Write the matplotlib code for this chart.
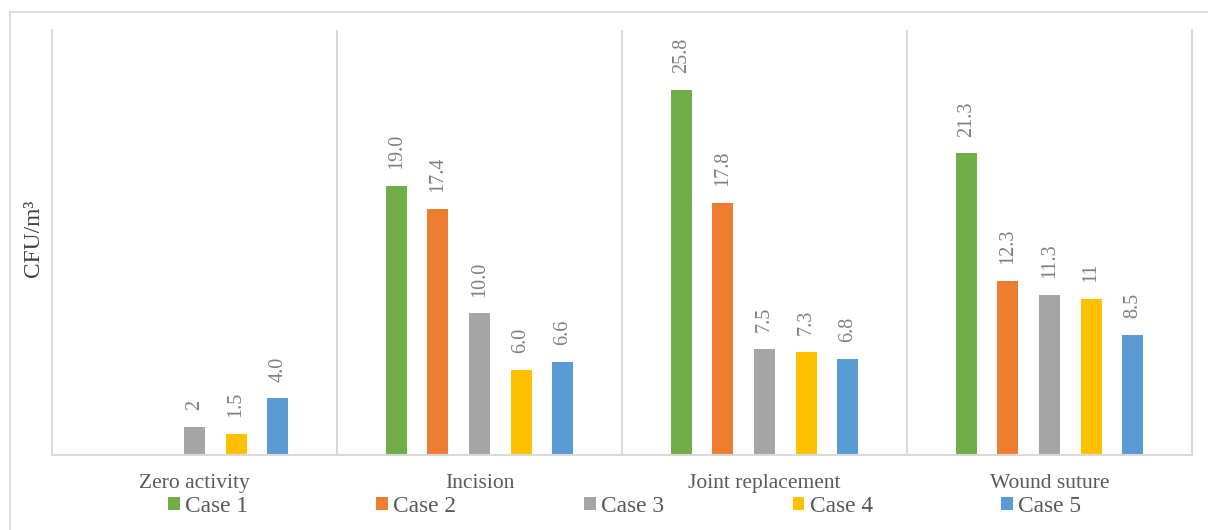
import matplotlib
matplotlib.use("Agg")
import matplotlib.pyplot as plt
from matplotlib.patches import Rectangle

plt.rcParams["font.family"] = ["Liberation Serif", "DejaVu Serif"]

categories = ["Zero activity", "Incision", "Joint replacement", "Wound suture"]
series_names = ["Case 1", "Case 2", "Case 3", "Case 4", "Case 5"]

# None = no bar in that group
case1 = [None, 19.0, 25.8, 21.3]
case2 = [None, 17.4, 17.8, 12.3]
case3 = [2.0, 10.0, 7.5, 11.3]
case4 = [1.5, 6.0, 7.3, 11.0]
case5 = [4.0, 6.6, 6.8, 8.5]

case1_labels = ["", "19.0", "25.8", "21.3"]
case2_labels = ["", "17.4", "17.8", "12.3"]
case3_labels = ["2", "10.0", "7.5", "11.3"]
case4_labels = ["1.5", "6.0", "7.3", "11"]
case5_labels = ["4.0", "6.6", "6.8", "8.5"]

colors = ["#70AD47", "#ED7D31", "#A5A5A5", "#FFC000", "#5B9BD5"]
grid_col = "#D9D9D9"

W, H = 1208, 530
fig = plt.figure(figsize=(W / 100, H / 100), dpi=100)

# outer chart border
fig.patches.append(Rectangle((10 / W, -0.02), 1.05, 1 - 12 / H + 0.02,
                             transform=fig.transFigure, fill=False,
                             edgecolor=grid_col, lw=1.3))

ax = fig.add_axes([52 / W, 75 / H, 1140 / W, 425 / H])

all_vals = [case1, case2, case3, case4, case5]
all_labels = [case1_labels, case2_labels, case3_labels, case4_labels, case5_labels]
width = 0.074
step = 0.146

handles = []
for i, (vals, labs) in enumerate(zip(all_vals, all_labels)):
    xs = [c + (i - 2) * step for c in range(len(categories)) if vals[c] is not None]
    ys = [v for v in vals if v is not None]
    tx = [l for l, v in zip(labs, vals) if v is not None]
    bars = ax.bar(xs, ys, width=width, color=colors[i], label=series_names[i])
    handles.append(bars)
    for x, y, t in zip(xs, ys, tx):
        ax.annotate(t, (x, y), xytext=(0, 12), textcoords="offset points",
                    rotation=90, ha="center", va="bottom",
                    fontsize=14.5, color="#7F7F7F")

for b in [0.5, 1.5, 2.5]:
    ax.axvline(b, color=grid_col, lw=1.5, zorder=0)

ax.set_xlim(-0.5, 3.5)
ax.set_ylim(0, 30)
ax.set_yticks([])
ax.set_xticks(range(len(categories)))
ax.set_xticklabels(categories, fontsize=15.5, color="#595959")
ax.tick_params(axis="x", length=0, pad=14)
ax.spines["top"].set_visible(False)
for s in ["left", "right", "bottom"]:
    ax.spines[s].set_color(grid_col)
    ax.spines[s].set_linewidth(1.5)

fig.text(34 / W, 1 - 238 / H, "CFU/m³", rotation=90, ha="center", va="center",
         fontsize=16.8, color="#404040")

fig.legend(handles=handles, loc="center", bbox_to_anchor=(624.5 / W, 1 - 506 / H),
           ncol=5, frameon=False, fontsize=16.8, handlelength=0.5, handleheight=0.5,
           handletextpad=0.22, columnspacing=5.5, labelcolor="#595959",
           borderpad=0, borderaxespad=0)

fig.savefig("out.png", dpi=100)
